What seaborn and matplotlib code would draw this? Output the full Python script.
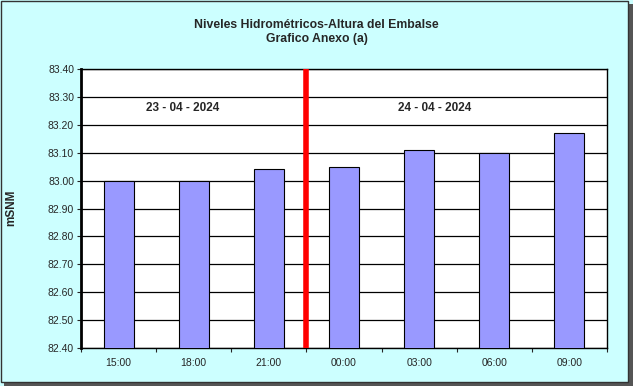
import numpy as np
import pandas as pd
import seaborn as sns
import matplotlib.pyplot as plt
from matplotlib.patches import Rectangle

# Datos del gráfico
horas = ['15:00', '18:00', '21:00', '00:00', '03:00', '06:00', '09:00']
alturas = [83.00, 83.00, 83.04, 83.05, 83.11, 83.10, 83.17]
fechas = ['23 - 04 - 2024', '24 - 04 - 2024']

df = pd.DataFrame({'hora': horas, 'altura': alturas})

sns.set_style('white')
plt.rcParams['font.family'] = ['Liberation Sans', 'DejaVu Sans']

fig = plt.figure(figsize=(6.33, 3.86), dpi=100)
fig.patch.set_facecolor('#CCFFFF')
ax = fig.add_axes([81 / 633, 1 - 348 / 386, 526 / 633, 279 / 386])
ax.set_facecolor('white')

sns.barplot(data=df, x='hora', y='altura', color='#9999FF', saturation=1,
            edgecolor='black', linewidth=0.8, width=0.4, ax=ax, zorder=3)

# Limites y cuadricula
ax.set_ylim(82.40, 83.40)
ax.set_xlim(-0.5, len(horas) - 0.5)
ax.set_yticks(np.arange(82.40, 83.401, 0.10))
ax.set_yticklabels([f'{v:.2f}' for v in np.arange(82.40, 83.401, 0.10)], fontsize=7.5)
ax.yaxis.grid(True, color='black', linewidth=0.9, zorder=0)
ax.set_axisbelow(True)
ax.tick_params(axis='y', length=3, width=0.8, direction='out', left=True, pad=2)
ax.tick_params(axis='x', which='major', length=0, labelsize=7.5, pad=7)
ax.set_xticks(np.arange(-0.5, len(horas) - 0.4, 1), minor=True)
ax.tick_params(axis='x', which='minor', length=3, width=0.8, direction='out', bottom=True)

for s in ax.spines.values():
    s.set_color('black')
    s.set_linewidth(1)
ax.spines['left'].set_linewidth(2)

# Separación de días
ax.axvline(2.5, color='red', linewidth=4, zorder=4)
ax.text(0.85, 83.26, fechas[0], fontsize=8.5, fontweight='bold', ha='center', va='center')
ax.text(4.2, 83.26, fechas[1], fontsize=8.5, fontweight='bold', ha='center', va='center')

ax.set_xlabel('')
ax.set_ylabel('')
fig.text(11 / 633, 1 - 208 / 386, 'mSNM', rotation=90, fontsize=8.5, fontweight='bold',
         ha='center', va='center')

fig.text(0.5, 1 - 32 / 386, 'Niveles Hidrométricos-Altura del Embalse\nGrafico Anexo (a)',
         ha='center', va='center', fontsize=8.8, fontweight='bold', linespacing=1.3)

# Borde con sombra
fig.patches.append(Rectangle((4 / 633, 0), 629 / 633, 382 / 386, transform=fig.transFigure,
                             facecolor='#555555', edgecolor='none', zorder=-2))
fig.patches.append(Rectangle((0.5 / 633, 4 / 386), 627 / 633, 381 / 386, transform=fig.transFigure,
                             facecolor='#CCFFFF', edgecolor='#333333', linewidth=1, zorder=-1))

fig.savefig('out.png', dpi=100, facecolor=fig.get_facecolor())
